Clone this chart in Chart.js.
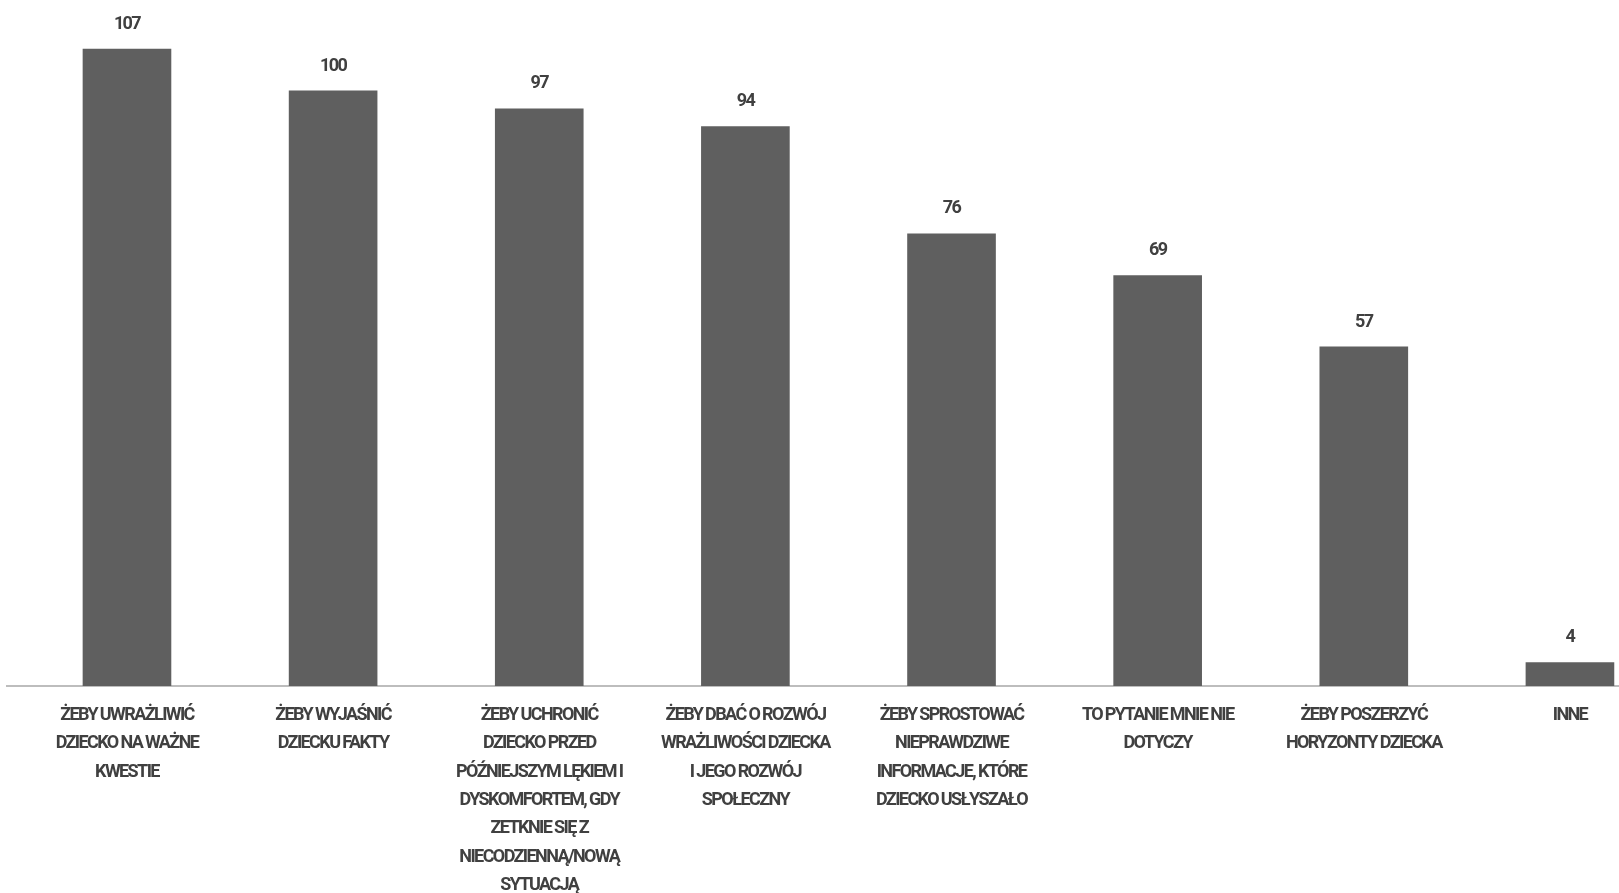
<!DOCTYPE html>
<html>
<head>
<meta charset="utf-8">
<script src="https://cdn.jsdelivr.net/npm/chart.js@4/dist/chart.umd.min.js"></script>
<style>
  html, body { margin: 0; padding: 0; background: #ffffff; overflow: hidden; }
  #wrap { width: 1619px; height: 893px; }
</style>
</head>
<body>
<div id="wrap"><canvas id="c" width="1619" height="893"></canvas></div>
<script>
// ---- data ----
const categories = [
  ["ŻEBY UWRAŻLIWIĆ", "DZIECKO NA WAŻNE", "KWESTIE"],
  ["ŻEBY WYJAŚNIĆ", "DZIECKU FAKTY"],
  ["ŻEBY UCHRONIĆ", "DZIECKO PRZED", "PÓŹNIEJSZYM LĘKIEM I", "DYSKOMFORTEM, GDY", "ZETKNIE SIĘ Z", "NIECODZIENNĄ/NOWĄ", "SYTUACJĄ"],
  ["ŻEBY DBAĆ O ROZWÓJ", "WRAŻLIWOŚCI DZIECKA", "I JEGO ROZWÓJ", "SPOŁECZNY"],
  ["ŻEBY SPROSTOWAĆ", "NIEPRAWDZIWE", "INFORMACJE, KTÓRE", "DZIECKO USŁYSZAŁO"],
  ["TO PYTANIE MNIE NIE", "DOTYCZY"],
  ["ŻEBY POSZERZYĆ", "HORYZONTY DZIECKA"],
  ["INNE"]
];
const values = [107, 100, 97, 94, 76, 69, 57, 4];

const FONT = "Roboto, 'Liberation Sans', sans-serif";
const TEXT = '#404040';

const tightText = {
  id: 'tightText',
  beforeDraw(chart) {
    chart.ctx.letterSpacing = '-1.6px';
  }
};

const valueLabels = {
  id: 'valueLabels',
  afterDatasetsDraw(chart) {
    const ctx = chart.ctx;
    const meta = chart.getDatasetMeta(0);
    ctx.save();
    ctx.font = 'bold 18px ' + FONT;
    ctx.fillStyle = TEXT;
    ctx.textAlign = 'center';
    ctx.textBaseline = 'alphabetic';
    meta.data.forEach((bar, i) => {
      ctx.fillText(String(values[i]), bar.x, bar.y - 20);
    });
    ctx.restore();
  }
};

new Chart(document.getElementById('c'), {
  type: 'bar',
  data: {
    datasets: [{
      data: values.map((v, i) => ({ x: i, y: v })),
      backgroundColor: '#5f5f5f',
      borderWidth: 0,
      barPercentage: 0.43,
      categoryPercentage: 1
    }]
  },
  options: {
    responsive: false,
    animation: false,
    layout: { padding: { top: 31, left: 7, right: 0, bottom: 0 } },
    plugins: { legend: { display: false }, tooltip: { enabled: false } },
    scales: {
      x: {
        type: 'linear',
        offset: false,
        min: -0.582,
        max: 7.238,
        afterBuildTicks(scale) { scale.ticks = categories.map((_, i) => ({ value: i })); },
        afterFit(scale) { scale.height = 207; },
        grid: { display: false },
        border: { display: true, color: '#bdbdbd', width: 2 },
        ticks: {
          autoSkip: false,
          maxRotation: 0,
          minRotation: 0,
          padding: 7,
          color: TEXT,
          font: { family: FONT, size: 18, weight: 'bold', lineHeight: 1.58 },
          callback: (v) => categories[v] || ''
        }
      },
      y: {
        display: false,
        min: 0,
        max: 110
      }
    }
  },
  plugins: [tightText, valueLabels]
});
</script>
</body>
</html>
